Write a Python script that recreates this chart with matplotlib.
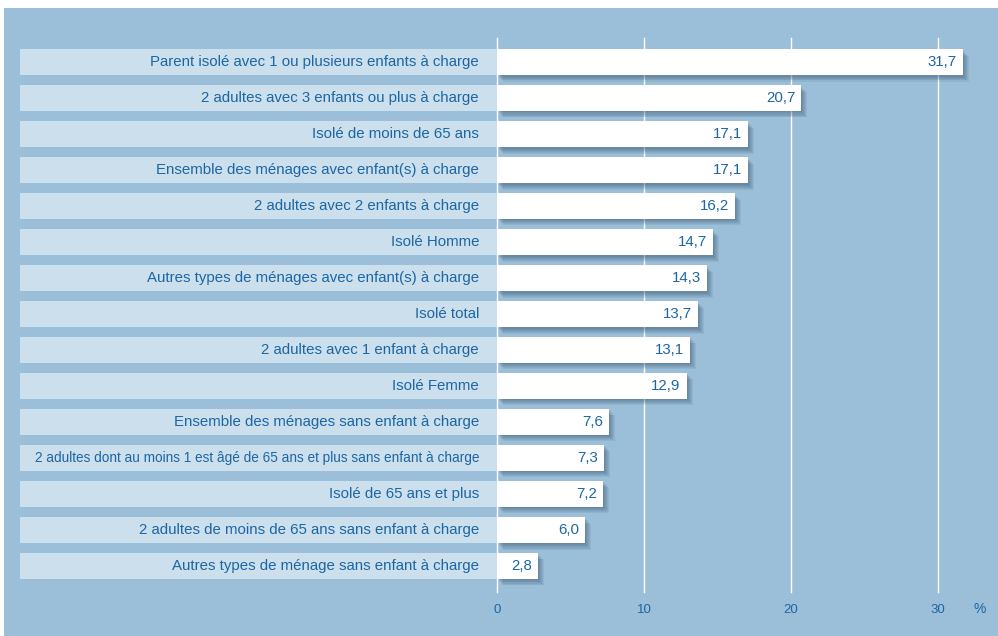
import matplotlib
matplotlib.use("Agg")
import matplotlib.pyplot as plt
from matplotlib.patches import Rectangle

plt.rcParams['font.family'] = ['Liberation Sans', 'DejaVu Sans']

categories = [
    "Parent isolé avec 1 ou plusieurs enfants à charge",
    "2 adultes avec 3 enfants ou plus à charge",
    "Isolé de moins de 65 ans",
    "Ensemble des ménages avec enfant(s) à charge",
    "2 adultes avec 2 enfants à charge",
    "Isolé Homme",
    "Autres types de ménages avec enfant(s) à charge",
    "Isolé total",
    "2 adultes avec 1 enfant à charge",
    "Isolé Femme",
    "Ensemble des ménages sans enfant à charge",
    "2 adultes dont au moins 1 est âgé de 65 ans et plus sans enfant à charge",
    "Isolé de 65 ans et plus",
    "2 adultes de moins de 65 ans sans enfant à charge",
    "Autres types de ménage sans enfant à charge",
]
values = [31.7, 20.7, 17.1, 17.1, 16.2, 14.7, 14.3, 13.7, 13.1, 12.9,
          7.6, 7.3, 7.2, 6.0, 2.8]
xticks = [0, 10, 20, 30]

BG = "#9bbfd9"
STRIP = "#cbdfec"
TXT = "#1d66a3"

W, H = 998, 636
PX_X = 14.7      # pixels per percent
PX_Y = 36.0      # pixels per row
X0 = 497         # pixel position of zero
Y0 = 62          # pixel centre of first row
FS = 10.8

fig = plt.figure(figsize=(W / 100, H / 100), dpi=100, facecolor="white")

ax = fig.add_axes([0, 0, 1, 1])
ax.set_facecolor("none")
ax.set_xlim(-X0 / PX_X, (W - X0) / PX_X)
ax.set_ylim((H - Y0) / PX_Y, -Y0 / PX_Y)
ax.axis("off")

# blue panel behind everything
ax.add_patch(Rectangle((4 / W, 0), (W - 4) / W, (H - 8) / H,
                       transform=fig.transFigure, facecolor=BG,
                       edgecolor="none", zorder=0))

rows = list(range(len(categories)))
bar_h = 26 / PX_Y
strip_left = -(X0 - 20) / PX_X

# vertical grid
for t in xticks:
    ax.plot([t, t], [(38 - Y0) / PX_Y, (592 - Y0) / PX_Y], color="white",
            lw=1.0, zorder=1)

# label strips
ax.barh(rows, [-strip_left] * len(rows), left=strip_left, height=bar_h,
        color=STRIP, edgecolor="none", zorder=2)

# soft drop shadow under the value bars
for k in range(1, 7):
    ax.barh([r + (k + 0.5) / PX_Y for r in rows], values, left=k / PX_X,
            height=bar_h, color="#2a445c", alpha=0.085, edgecolor="none",
            zorder=3)

ax.barh(rows, values, height=bar_h, color="white", edgecolor="none", zorder=4)

renderer = fig.canvas.get_renderer()
max_w = X0 - 18 - 34
for r, cat, v in zip(rows, categories, values):
    t = ax.text(-18 / PX_X, r, cat, ha="right", va="center", color=TXT,
                fontsize=FS, zorder=5)
    w = t.get_window_extent(renderer).width
    if w > max_w:
        t.set_fontsize(FS * max_w / w)
    ax.text(v - 6 / PX_X, r, f"{v:.1f}".replace(".", ","), ha="right",
            va="center", color=TXT, fontsize=FS, zorder=5)

for t in xticks:
    ax.text(t, (610 - Y0) / PX_Y, str(t), ha="center", va="center",
            color=TXT, fontsize=9.5)
ax.text((980 - X0) / PX_X, (609 - Y0) / PX_Y, "%", ha="center", va="center",
        color=TXT, fontsize=10)

fig.savefig("out.png", dpi=100, facecolor="white")
